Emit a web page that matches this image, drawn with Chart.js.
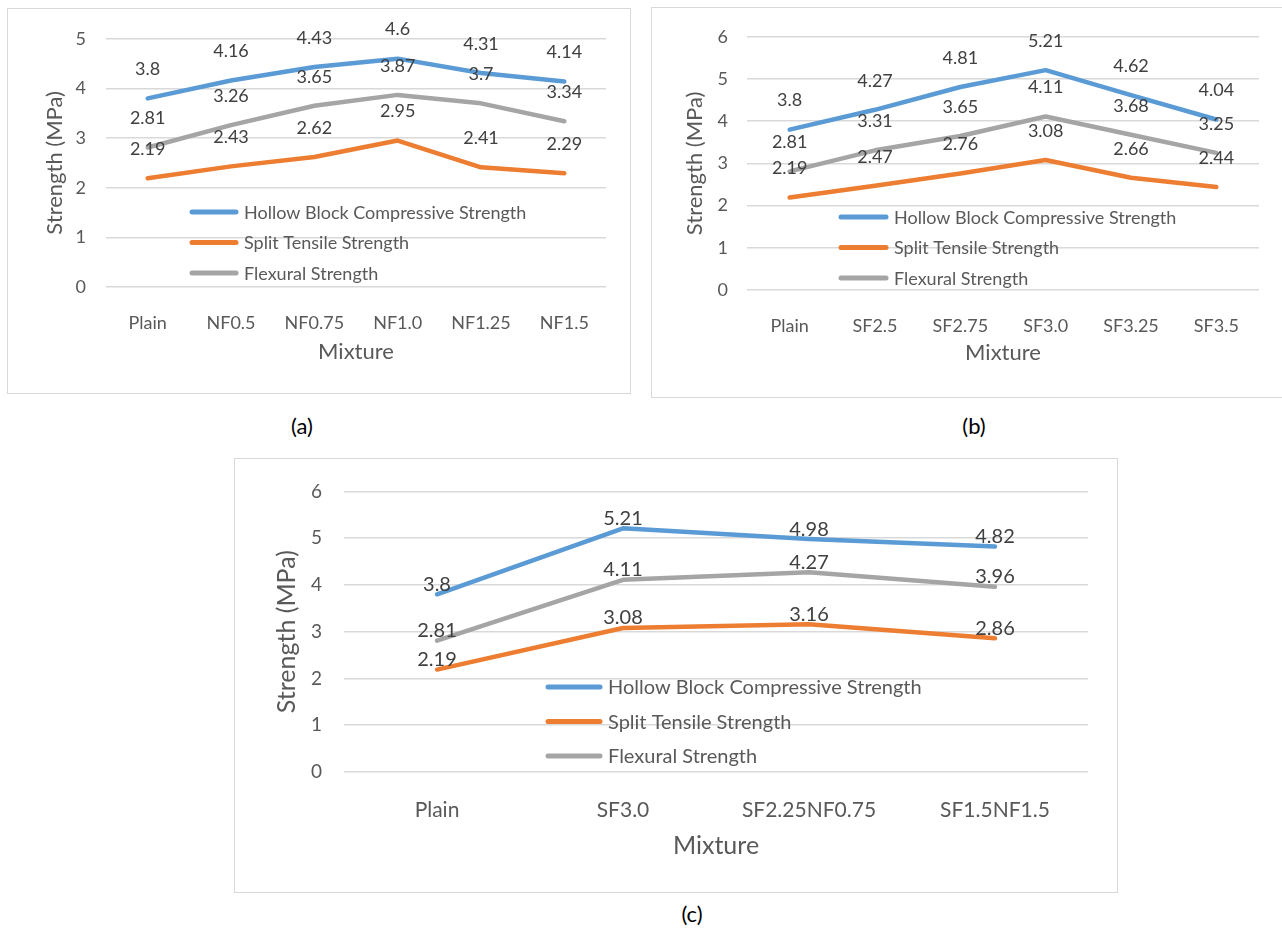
<!DOCTYPE html>
<html>
<head>
<meta charset="utf-8">
<script src="https://cdn.jsdelivr.net/npm/chart.js@4.4.0/dist/chart.umd.min.js"></script>
<style>
  body { margin: 0; background: #fff; width: 1282px; height: 930px; position: relative; overflow: hidden; font-family: Lato, sans-serif; }
  .frame { position: absolute; border: 1.5px solid #d9d9d9; box-sizing: border-box; }
  canvas { position: absolute; }
  .cap { position: absolute; font-size: 22px; color: #000; transform: translateX(-50%); }
</style>
</head>
<body>
<div class="frame" style="left:7px;top:8px;width:624px;height:386px"></div>
<div class="frame" style="left:651px;top:7px;width:634px;height:391px"></div>
<div class="frame" style="left:234px;top:458px;width:884px;height:435px"></div>
<canvas id="chartA" width="623" height="386" style="left:7px;top:8px"></canvas>
<canvas id="chartB" width="631" height="391" style="left:651px;top:7px"></canvas>
<canvas id="chartC" width="883" height="434" style="left:234px;top:458px"></canvas>
<div class="cap" style="left:302px;top:412px">(a)</div>
<div class="cap" style="left:974px;top:412px">(b)</div>
<div class="cap" style="left:692px;top:900px">(c)</div>

<script>
const seriesNames = ['Hollow Block Compressive Strength', 'Split Tensile Strength', 'Flexural Strength'];
const seriesColors = ['#5b9bd5', '#ed7d31', '#a5a5a5'];

// (a) nano fibre mixes
const mixA = ['Plain', 'NF0.5', 'NF0.75', 'NF1.0', 'NF1.25', 'NF1.5'];
const hollowA = [3.8, 4.16, 4.43, 4.6, 4.31, 4.14];
const splitA = [2.19, 2.43, 2.62, 2.95, 2.41, 2.29];
const flexA = [2.81, 3.26, 3.65, 3.87, 3.7, 3.34];

// (b) steel fibre mixes
const mixB = ['Plain', 'SF2.5', 'SF2.75', 'SF3.0', 'SF3.25', 'SF3.5'];
const hollowB = [3.8, 4.27, 4.81, 5.21, 4.62, 4.04];
const splitB = [2.19, 2.47, 2.76, 3.08, 2.66, 2.44];
const flexB = [2.81, 3.31, 3.65, 4.11, 3.68, 3.25];

// (c) hybrid mixes
const mixC = ['Plain', 'SF3.0', 'SF2.25NF0.75', 'SF1.5NF1.5'];
const hollowC = [3.8, 5.21, 4.98, 4.82];
const splitC = [2.19, 3.08, 3.16, 2.86];
const flexC = [2.81, 4.11, 4.27, 3.96];

const yMaxA = 5, yMaxB = 6, yMaxC = 6;

const textColor = '#595959';

// value labels above each point
const pointLabels = {
  id: 'pointLabels',
  afterDatasetsDraw(chart, args, opts) {
    const ctx = chart.ctx;
    ctx.save();
    ctx.font = opts.size + 'px Lato';
    ctx.fillStyle = '#404040';
    ctx.textAlign = 'center';
    ctx.textBaseline = 'middle';
    chart.data.datasets.forEach((ds, i) => {
      chart.getDatasetMeta(i).data.forEach((pt, j) => {
        ctx.fillText(String(ds.data[j]), pt.x, pt.y - opts.offset);
      });
    });
    ctx.restore();
  }
};

// legend drawn inside the plot area
const innerLegend = {
  id: 'innerLegend',
  afterDraw(chart, args, opts) {
    const ctx = chart.ctx;
    ctx.save();
    ctx.font = opts.size + 'px Lato';
    ctx.textBaseline = 'middle';
    ctx.lineCap = 'round';
    chart.data.datasets.forEach((ds, i) => {
      const y = opts.y + i * opts.gap;
      ctx.strokeStyle = ds.borderColor;
      ctx.lineWidth = 5;
      ctx.beginPath();
      ctx.moveTo(opts.x + 2, y);
      ctx.lineTo(opts.x + opts.len - 2, y);
      ctx.stroke();
      ctx.fillStyle = textColor;
      ctx.fillText(ds.label, opts.x + opts.len + 6, y + 1);
    });
    ctx.restore();
  }
};

function makeChart(id, labels, hollow, split, flex, yMax, c) {
  const values = [hollow, split, flex];
  new Chart(document.getElementById(id), {
    type: 'line',
    data: {
      labels: labels,
      datasets: values.map((v, i) => ({
        label: seriesNames[i],
        data: v,
        borderColor: seriesColors[i],
        backgroundColor: seriesColors[i],
        borderWidth: 4.5,
        borderCapStyle: 'round',
        borderJoinStyle: 'round',
        pointRadius: 0,
        tension: 0
      }))
    },
    options: {
      responsive: false,
      devicePixelRatio: 1,
      animation: false,
      layout: { padding: { left: 0, top: c.top, right: c.right, bottom: 0 } },
      scales: {
        x: {
          offset: true,
          grid: { display: false },
          border: { display: false },
          ticks: { color: textColor, font: { family: 'Lato', size: c.catSize }, padding: c.catPad, maxRotation: 0 },
          title: { display: true, text: 'Mixture', color: textColor, font: { family: 'Lato', size: c.titleSize }, padding: { top: 0, bottom: c.mixPad } },
          afterFit(scale) { scale.height = c.xHeight; }
        },
        y: {
          min: 0,
          max: yMax,
          ticks: { stepSize: 1, color: textColor, font: { family: 'Lato', size: c.tickSize }, padding: c.tickPad },
          grid: { color: '#d9d9d9', lineWidth: 1.5, drawTicks: false },
          border: { display: false },
          title: { display: true, text: 'Strength (MPa)', color: textColor, font: { family: 'Lato', size: c.titleSize }, padding: { top: c.yTitlePad, bottom: 0 } },
          afterFit(scale) { scale.width = c.yWidth; }
        }
      },
      plugins: {
        legend: { display: false },
        tooltip: { enabled: false },
        pointLabels: { size: c.labelSize, offset: c.labelOffset },
        innerLegend: c.legend
      }
    },
    plugins: [pointLabels, innerLegend]
  });
}

makeChart('chartA', mixA, hollowA, splitA, flexA, yMaxA, {
  top: 27, right: 24, yWidth: 99, xHeight: 107,
  tickSize: 18, tickPad: 20, catSize: 18, catPad: 17, titleSize: 22, yTitlePad: 35, mixPad: 29,
  labelSize: 18, labelOffset: 29,
  legend: { x: 183, y: 204, gap: 30.5, len: 48, size: 18 }
});

makeChart('chartB', mixB, hollowB, splitB, flexB, yMaxB, {
  top: 26, right: 23, yWidth: 96, xHeight: 108,
  tickSize: 18, tickPad: 19, catSize: 18, catPad: 17, titleSize: 22, yTitlePad: 31, mixPad: 32,
  labelSize: 18, labelOffset: 29,
  legend: { x: 188, y: 210, gap: 30.5, len: 49, size: 18 }
});

makeChart('chartC', mixC, hollowC, splitC, flexC, yMaxC, {
  top: 30, right: 29, yWidth: 110, xHeight: 120,
  tickSize: 19, tickPad: 22, catSize: 21, catPad: 18, titleSize: 25, yTitlePad: 38, mixPad: 31,
  labelSize: 20, labelOffset: 10,
  legend: { x: 312, y: 229, gap: 34.5, len: 56, size: 20 }
});
</script>
</body>
</html>
